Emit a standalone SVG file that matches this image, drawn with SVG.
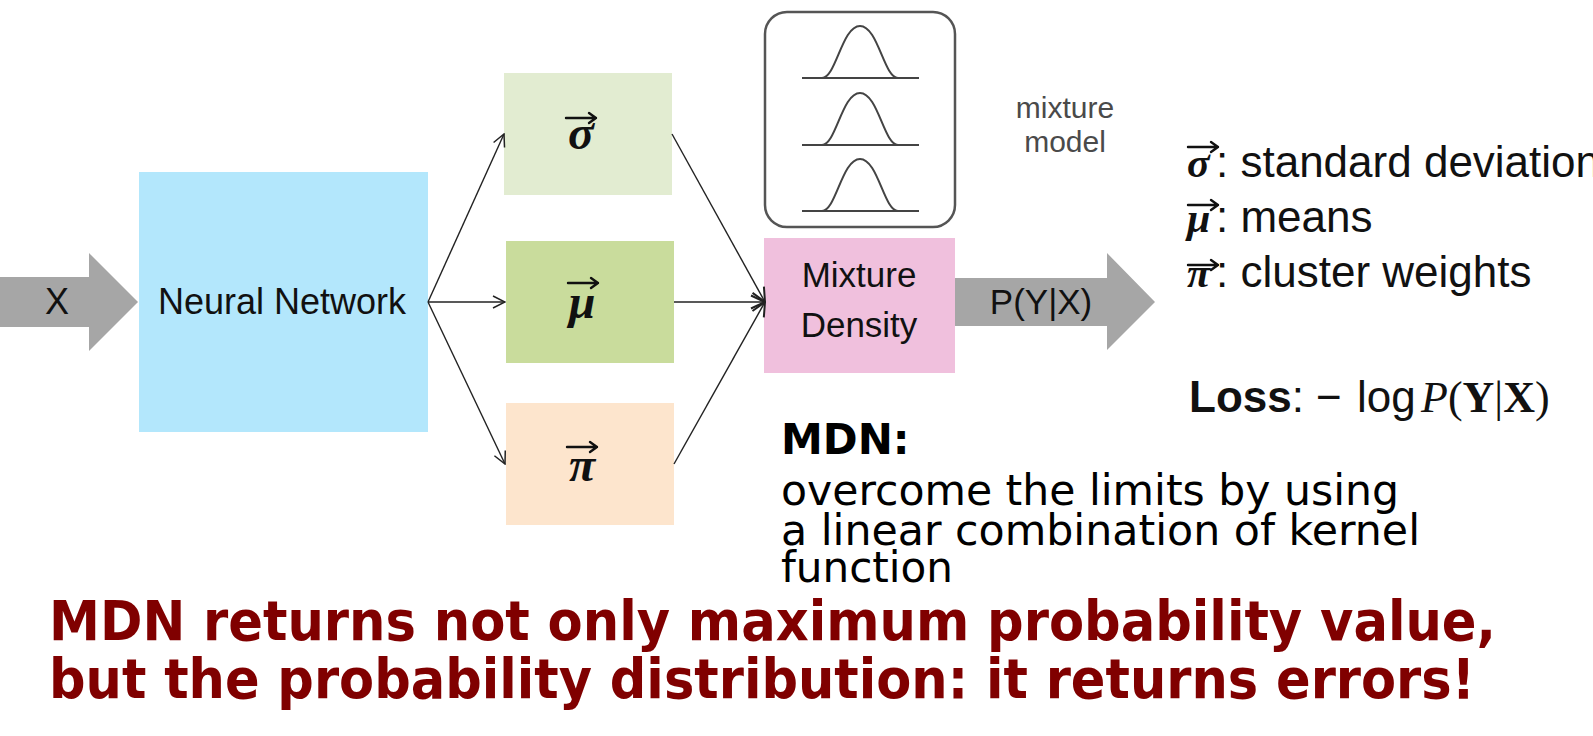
<svg xmlns="http://www.w3.org/2000/svg" xmlns:xlink="http://www.w3.org/1999/xlink" width="1593" height="736" viewBox="0 0 1593 736">
<style>
.sans{font-family:"Liberation Sans",Arial,sans-serif;fill:#111}
.serif{font-family:"Liberation Serif","DejaVu Serif",serif;fill:#111}
.greek{font-family:"Liberation Serif","DejaVu Serif",serif;font-weight:bold;font-style:italic;fill:#111}
.dv{font-family:"DejaVu Sans",sans-serif;fill:#000}
.conn{stroke:#222;stroke-width:1.4;fill:none}
.vec{stroke:#111;stroke-width:2.4;fill:none;stroke-linecap:round;stroke-linejoin:round}
.fat{fill:#a6a6a6}
.red{fill:#800000}
</style>
<defs>
<marker id="ah" viewBox="0 0 14 14" refX="13" refY="7" markerWidth="14" markerHeight="14" markerUnits="userSpaceOnUse" orient="auto">
<path d="M1,1 L13,7 L1,13" fill="none" stroke="#222" stroke-width="1.5"/>
</marker>
<marker id="ah2" viewBox="0 0 16 16" refX="15" refY="8" markerWidth="16" markerHeight="16" markerUnits="userSpaceOnUse" orient="auto">
<path d="M1,1.5 L15,8 L1,14.5" fill="none" stroke="#222" stroke-width="2"/>
</marker>
<path id="vec" class="vec" d="M0,0 H30 M23,-5 L30,0 L23,5"/>
<path id="bell" d="M802,0 H919 M822,0 C836,0 842,-52 860,-52 C878,-52 884,0 898,0" fill="none" stroke="#444" stroke-width="2"/>
</defs>

<g id="input-arrow">
<polygon class="fat" points="0,277 89,277 89,253 138,302 89,351 89,327 0,327"/>
<text class="sans" x="57" y="314" font-size="36" text-anchor="middle">X</text>
</g>

<g id="neural-network">
<rect x="139" y="172" width="289" height="260" fill="#b3e7fc"/>
<text class="sans" x="282" y="314" font-size="36" text-anchor="middle">Neural Network</text>
</g>

<g id="sigma">
<rect x="504" y="73" width="168" height="122" fill="#e2ecd1"/>
<text class="greek" x="581" y="149" font-size="48" text-anchor="middle">σ</text>
<use xlink:href="#vec" x="566" y="118"/>
</g>

<g id="mu">
<rect x="506" y="241" width="168" height="122" fill="#c9dc9c"/>
<text class="greek" x="582" y="318" font-size="48" text-anchor="middle">μ</text>
<use xlink:href="#vec" x="568" y="283"/>
</g>

<g id="pi">
<rect x="506" y="403" width="168" height="122" fill="#fde5cd"/>
<text class="greek" x="582" y="481" font-size="48" text-anchor="middle">π</text>
<use xlink:href="#vec" x="567" y="447"/>
</g>

<g id="mixture-model">
<rect x="765" y="12" width="190" height="215" rx="22" fill="none" stroke="#555" stroke-width="2.5"/>
<use xlink:href="#bell" y="78"/>
<use xlink:href="#bell" y="145"/>
<use xlink:href="#bell" y="211"/>
<text class="sans" x="1065" y="118" font-size="30" text-anchor="middle" style="fill:#4a4a4a">mixture</text>
<text class="sans" x="1065" y="152" font-size="30" text-anchor="middle" style="fill:#4a4a4a">model</text>
</g>

<g id="mixture-density">
<rect x="764" y="238" width="191" height="135" fill="#f0c0dd"/>
<text class="sans" x="859" y="287" font-size="35" text-anchor="middle">Mixture</text>
<text class="sans" x="859" y="337" font-size="35" text-anchor="middle">Density</text>
</g>

<g id="output-arrow">
<polygon class="fat" points="955,278 1107,278 1107,253 1155,302 1107,350 1107,326 955,326"/>
<text class="sans" x="1041" y="314" font-size="35" text-anchor="middle">P(Y|X)</text>
</g>

<g id="connectors">
<line class="conn" x1="428" y1="302" x2="504" y2="134" marker-end="url(#ah)"/>
<line class="conn" x1="428" y1="302" x2="505" y2="302" marker-end="url(#ah)"/>
<line class="conn" x1="428" y1="302" x2="505" y2="464" marker-end="url(#ah)"/>
<line class="conn" x1="672" y1="134" x2="765" y2="302" marker-end="url(#ah2)"/>
<line class="conn" x1="674" y1="302" x2="765" y2="302" marker-end="url(#ah2)"/>
<line class="conn" x1="674" y1="464" x2="765" y2="302" marker-end="url(#ah2)"/>
</g>

<g id="legend">
<text class="greek" x="1187" y="177" font-size="42">σ</text>
<use xlink:href="#vec" x="1188" y="147"/>
<text class="sans" x="1216" y="177" font-size="44">: standard deviation</text>
<text class="greek" x="1187" y="232" font-size="42">μ</text>
<use xlink:href="#vec" x="1188" y="205"/>
<text class="sans" x="1216" y="232" font-size="44">: means</text>
<text class="greek" x="1187" y="287" font-size="42">π</text>
<use xlink:href="#vec" x="1188" y="265"/>
<text class="sans" x="1216" y="287" font-size="44">: cluster weights</text>
<text x="1189" y="412" font-size="44"><tspan class="sans" font-weight="bold">Loss</tspan><tspan class="sans">:</tspan><tspan class="sans" x="1316">−</tspan><tspan class="sans" x="1357">log</tspan><tspan class="serif" x="1421" font-style="italic">P</tspan><tspan class="serif">(</tspan><tspan class="serif" font-weight="bold">Y</tspan><tspan class="serif">|</tspan><tspan class="serif" font-weight="bold">X</tspan><tspan class="serif">)</tspan></text>
</g>

<g id="mdn-note">
<text class="dv" x="781" y="454" font-size="42" font-weight="bold">MDN:</text>
<text class="dv" x="781" y="505" font-size="42" textLength="618" lengthAdjust="spacingAndGlyphs">overcome the limits by using</text>
<text class="dv" x="781" y="545" font-size="42" textLength="639" lengthAdjust="spacingAndGlyphs">a linear combination of kernel</text>
<text class="dv" x="781" y="582" font-size="42" textLength="172" lengthAdjust="spacingAndGlyphs">function</text>
</g>

<g id="conclusion">
<text class="dv red" x="49" y="640" font-size="55" font-weight="bold" textLength="1447" lengthAdjust="spacingAndGlyphs">MDN returns not only maximum probability value,</text>
<text class="dv red" x="49" y="698" font-size="55" font-weight="bold" textLength="1426" lengthAdjust="spacingAndGlyphs">but the probability distribution: it returns errors!</text>
</g>
</svg>
